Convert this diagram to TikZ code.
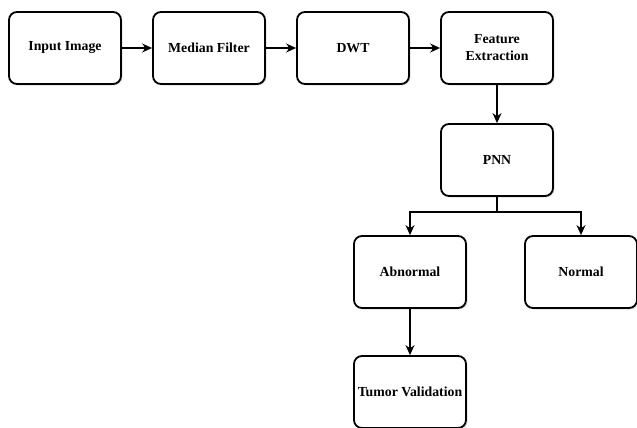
\documentclass[tikz,border=0pt]{standalone}
\usepackage{fontspec}
\setmainfont{Liberation Serif}
\usetikzlibrary{arrows.meta,shadows}

\begin{document}
\begin{tikzpicture}[x=1pt,y=-1pt,
  stage/.style={draw=black,line width=1.8pt,rounded corners=8pt,fill=white,
    minimum width=112pt,minimum height=72pt,align=center,
    font=\fontsize{13.8}{17}\selectfont\bfseries,
    drop shadow={shadow xshift=1.5pt,shadow yshift=-1.5pt,fill=black!25}},
  flow/.style={line width=1.8pt,-{Stealth[length=10pt,width=9pt]}}]
  \useasboundingbox (0,0) rectangle (637,428);

  % top row: preprocessing chain
  \node[stage] (input)  at (65,48)  {Input Image};
  \node[stage] (median) at (209,48) {Median Filter};
  \node[stage] (dwt)    at (353,48) {DWT};
  \node[stage] (feat)   at (497,48) {Feature\\Extraction};
  \draw[flow] (input) -- (median);
  \draw[flow] (median) -- (dwt);
  \draw[flow] (dwt) -- (feat);

  % classifier and its two outcomes
  \node[stage] (pnn)    at (497,160) {PNN};
  \node[stage] (abnorm) at (410,272) {Abnormal};
  \node[stage] (norm)   at (581,272) {Normal};
  \node[stage] (tumor)  at (410,392) {Tumor Validation};
  \draw[flow] (feat) -- (pnn);
  \draw[line width=1.8pt] (pnn.south) -- ++(0,15) coordinate (split);
  \draw[flow] (split) -| (abnorm.north);
  \draw[flow] (split) -| (norm.north);
  \draw[flow] (abnorm) -- (tumor);
\end{tikzpicture}
\end{document}
